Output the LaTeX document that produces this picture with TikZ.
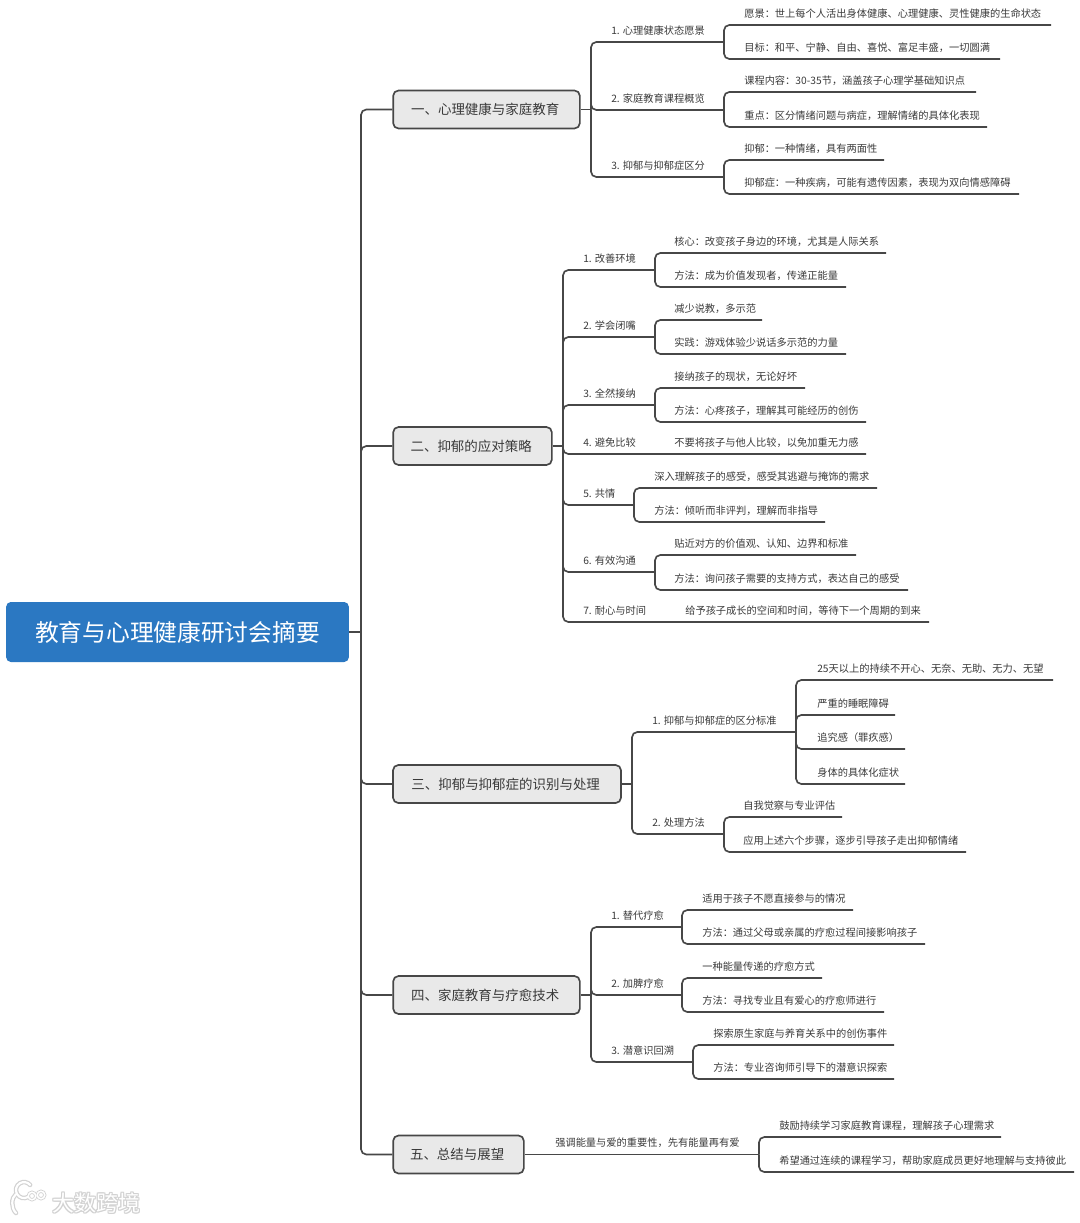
\documentclass[tikz,border=0pt]{standalone}
\usepackage{fontspec}
\newfontfamily\cjk{Noto Sans CJK SC}
\definecolor{linec}{HTML}{474747}
\definecolor{txtc}{HTML}{3A3A3A}
\definecolor{topicfill}{HTML}{E9E9E9}
\definecolor{rootfill}{HTML}{2B78C2}
\definecolor{wmgrey}{HTML}{D2D2D2}
\tikzset{
  conn/.style={draw=linec,line width=1.25pt,rounded corners=4pt},
  lbl/.style={anchor=west,inner sep=0pt,text=txtc,font=\cjk\fontsize{7.68}{9}\selectfont},
  topic/.style={draw=linec,line width=1.25pt,fill=topicfill,rounded corners=4pt,inner sep=0pt,text=txtc,
     minimum height=28.5pt,font=\cjk\fontsize{10.1}{12}\selectfont,execute at end node={\hspace*{2pt}}},
  rootbox/.style={fill=rootfill,rounded corners=3.5pt,inner sep=0pt,text=white,minimum width=257pt,minimum height=45pt,
     font=\cjk\fontsize{17.8}{20}\selectfont},
  wmtext/.style={inner sep=0pt,anchor=west,font=\cjk\fontsize{16.5}{18}\selectfont}
}
% name, text x, line y, line end x, text
\newcommand{\lineitem}[5]{%
  \node[lbl] (#1) at (#2,#3-11) {#5};
  \coordinate (#1-e) at (#4,#3);}
% parent junction, child
\newcommand{\tie}[2]{\draw[conn] (#1) |- (#2-e);}
\begin{document}
\begin{tikzpicture}[x=0.75pt,y=-0.75pt]
\useasboundingbox (0,0) rectangle (1080,1223);
% root and topics
\node[rootbox] (root) at (177.5,632) {教育与心理健康研讨会摘要};
\node[topic,minimum width=140pt] (T1) at (486.5,109.5) {一、心理健康与家庭教育};
\node[topic,minimum width=119pt] (T2) at (472.5,446) {二、抑郁的应对策略};
\node[topic,minimum width=171pt] (T3) at (507,784) {三、抑郁与抑郁症的识别与处理};
\node[topic,minimum width=140pt] (T4) at (486.5,995) {四、家庭教育与疗愈技术};
\node[topic,minimum width=98pt] (T5) at (458.5,1154.5) {五、总结与展望};
\coordinate (Rj) at (361,632);
\draw[conn] (root.east) -- (Rj);
\foreach \t in {T1,T2,T3,T4,T5}{\draw[conn] (Rj) |- (\t.west);}
% junctions
\coordinate (J1) at (591,109.5);
\coordinate (J2) at (563,446);
\coordinate (J3) at (632,784);
\coordinate (J4) at (591,995);
\coordinate (J5) at (759,1154.5);
\draw[conn] (T1.east) -- (J1);
\draw[conn] (T2.east) -- (J2);
\draw[conn] (T3.east) -- (J3);
\draw[conn] (T4.east) -- (J4);
\draw[conn] (T5.east) -- (J5);
% Topic 1
\lineitem{a1}{611}{42}{724}{1. 心理健康状态愿景}
\lineitem{a2}{611}{110}{724}{2. 家庭教育课程概览}
\lineitem{a3}{611}{177}{724}{3. 抑郁与抑郁症区分}
\foreach \c in {a1,a2,a3}{\tie{J1}{\c}}
\lineitem{a11}{744}{25}{1051}{愿景：世上每个人活出身体健康、心理健康、灵性健康的生命状态}
\lineitem{a12}{744}{59}{1000}{目标：和平、宁静、自由、喜悦、富足丰盛，一切圆满}
\lineitem{a21}{744}{92}{976}{课程内容：30-35节，涵盖孩子心理学基础知识点}
\lineitem{a22}{744}{127}{987}{重点：区分情绪问题与病症，理解情绪的具体化表现}
\lineitem{a31}{744}{160}{884}{抑郁：一种情绪，具有两面性}
\lineitem{a32}{744}{194}{1019}{抑郁症：一种疾病，可能有遗传因素，表现为双向情感障碍}
\tie{a1-e}{a11}\tie{a1-e}{a12}\tie{a2-e}{a21}\tie{a2-e}{a22}\tie{a3-e}{a31}\tie{a3-e}{a32}
% Topic 2
\lineitem{b1}{583}{270}{655}{1. 改善环境}
\lineitem{b2}{583}{337}{655}{2. 学会闭嘴}
\lineitem{b3}{583}{405}{655}{3. 全然接纳}
\lineitem{b4}{583}{454}{866}{4. 避免比较}
\lineitem{b5}{583}{505}{634}{5. 共情}
\lineitem{b6}{583}{572}{655}{6. 有效沟通}
\lineitem{b7}{583}{622}{929}{7. 耐心与时间}
\foreach \c in {b1,b2,b3,b4,b5,b6,b7}{\tie{J2}{\c}}
\lineitem{b11}{674}{253}{886}{核心：改变孩子身边的环境，尤其是人际关系}
\lineitem{b12}{674}{287}{846}{方法：成为价值发现者，传递正能量}
\lineitem{b21}{674}{320}{762}{减少说教，多示范}
\lineitem{b22}{674}{354}{846}{实践：游戏体验少说话多示范的力量}
\lineitem{b31}{674}{388}{805}{接纳孩子的现状，无论好坏}
\lineitem{b32}{674}{422}{866}{方法：心疼孩子，理解其可能经历的创伤}
\node[lbl] (b41) at (674,443) {不要将孩子与他人比较，以免加重无力感};
\lineitem{b51}{654}{488}{877}{深入理解孩子的感受，感受其逃避与掩饰的需求}
\lineitem{b52}{654}{522}{825}{方法：倾听而非评判，理解而非指导}
\lineitem{b61}{674}{555}{856}{贴近对方的价值观、认知、边界和标准}
\lineitem{b62}{674}{590}{908}{方法：询问孩子需要的支持方式，表达自己的感受}
\node[lbl] (b71) at (685,611) {给予孩子成长的空间和时间，等待下一个周期的到来};
\tie{b1-e}{b11}\tie{b1-e}{b12}\tie{b2-e}{b21}\tie{b2-e}{b22}\tie{b3-e}{b31}\tie{b3-e}{b32}
\tie{b5-e}{b51}\tie{b5-e}{b52}\tie{b6-e}{b61}\tie{b6-e}{b62}
% Topic 3
\lineitem{c1}{652}{732}{796}{1. 抑郁与抑郁症的区分标准}
\lineitem{c2}{652}{834}{724}{2. 处理方法}
\foreach \c in {c1,c2}{\tie{J3}{\c}}
\lineitem{c11}{817}{680}{1053}{25天以上的持续不开心、无奈、无助、无力、无望}
\lineitem{c12}{817}{715}{895}{严重的睡眠障碍}
\lineitem{c13}{817}{749}{905}{追究感（罪疚感）}
\lineitem{c14}{817}{784}{905}{身体的具体化症状}
\lineitem{c21}{743}{817}{842}{自我觉察与专业评估}
\lineitem{c22}{743}{852}{966}{应用上述六个步骤，逐步引导孩子走出抑郁情绪}
\foreach \c in {c11,c12,c13,c14}{\tie{c1-e}{\c}}
\foreach \c in {c21,c22}{\tie{c2-e}{\c}}
% Topic 4
\lineitem{d1}{611}{927}{682}{1. 替代疗愈}
\lineitem{d2}{611}{995}{682}{2. 加脾疗愈}
\lineitem{d3}{611}{1062}{693}{3. 潜意识回溯}
\foreach \c in {d1,d2,d3}{\tie{J4}{\c}}
\lineitem{d11}{702}{910}{853}{适用于孩子不愿直接参与的情况}
\lineitem{d12}{702}{944}{925}{方法：通过父母或亲属的疗愈过程间接影响孩子}
\lineitem{d21}{702}{978}{822}{一种能量传递的疗愈方式}
\lineitem{d22}{702}{1012}{884}{方法：寻找专业且有爱心的疗愈师进行}
\lineitem{d31}{713}{1045}{894}{探索原生家庭与养育关系中的创伤事件}
\lineitem{d32}{713}{1079}{894}{方法：专业咨询师引导下的潜意识探索}
\tie{d1-e}{d11}\tie{d1-e}{d12}\tie{d2-e}{d21}\tie{d2-e}{d22}\tie{d3-e}{d31}\tie{d3-e}{d32}
% Topic 5
\node[lbl] (e0) at (555,1143) {强调能量与爱的重要性，先有能量再有爱};
\lineitem{e1}{779}{1137}{1001}{鼓励持续学习家庭教育课程，理解孩子心理需求}
\lineitem{e2}{779}{1172}{1074}{希望通过连续的课程学习，帮助家庭成员更好地理解与支持彼此}
\tie{J5}{e1}\tie{J5}{e2}
% watermark
\foreach \dx/\dy in {-1/0,1/0,0/-1,0/1,-1/-1,1/1,-1/1,1/-1}{
  \node[wmtext,text=wmgrey] (wm\dx\dy) at (52+\dx,1203+\dy) {大数跨境};
}
\node[wmtext,text=white] (wmt) at (52,1203) {大数跨境};
\foreach \w/\c in {3.4pt/wmgrey,1.6pt/white}{
  \draw[line width=\w,color=\c,line cap=round] (16,1194) .. controls (11,1198) and (11,1208) .. (16,1213);
  \draw[line width=\w,color=\c,line cap=round] (28,1197) arc[start angle=60,end angle=320,radius=8];
  \draw[line width=\w*0.7,color=\c] (32,1196) circle[radius=3.8];
  \draw[line width=\w*0.7,color=\c] (41,1195) circle[radius=3.8];
}
\end{tikzpicture}
\end{document}
